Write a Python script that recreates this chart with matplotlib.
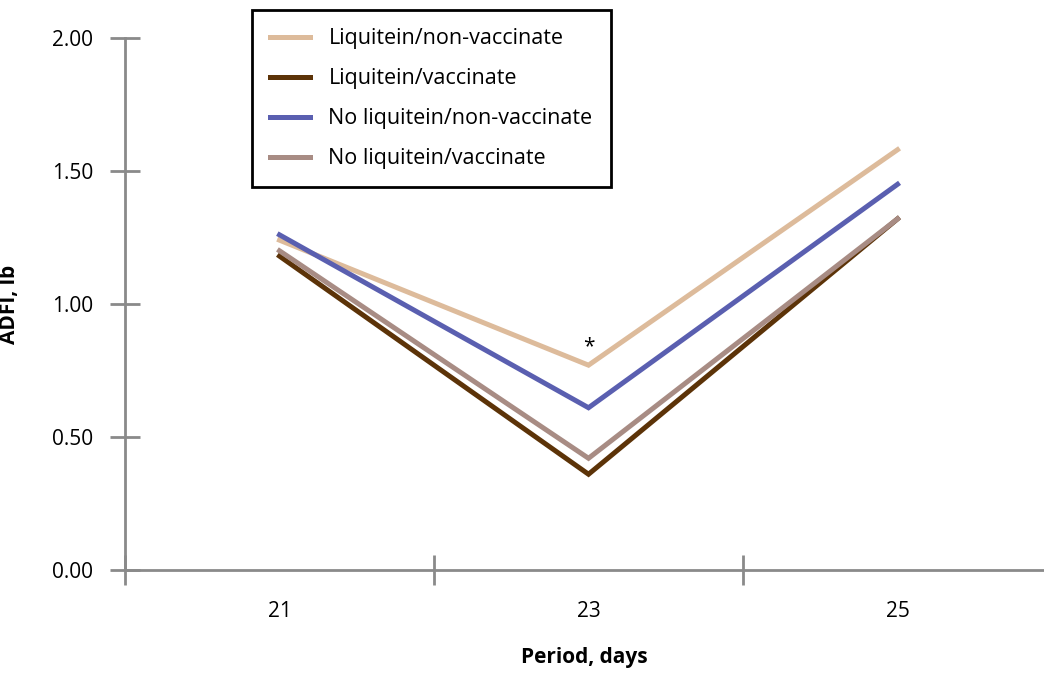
import matplotlib
matplotlib.use("Agg")
import matplotlib.pyplot as plt
import numpy as np

periods = ["21", "23", "25"]
series_names = [
    "Liquitein/non-vaccinate",
    "Liquitein/vaccinate",
    "No liquitein/non-vaccinate",
    "No liquitein/vaccinate",
]
liq_nonvac = [1.24, 0.77, 1.58]
liq_vac = [1.18, 0.36, 1.32]
noliq_nonvac = [1.26, 0.61, 1.45]
noliq_vac = [1.20, 0.42, 1.32]
colors = ["#DDBB9B", "#5C3308", "#5A5FB0", "#A88C84"]
star_pos = (1, 0.84)

plt.rcParams["font.family"] = ["Open Sans", "DejaVu Sans"]

fig = plt.figure(figsize=(10.44, 6.73), dpi=100)
ax = fig.add_axes([125 / 1044, 103 / 673, 919 / 1044, 532 / 673])

x = np.arange(len(periods))
for vals, name, c in zip([liq_nonvac, liq_vac, noliq_nonvac, noliq_vac], series_names, colors):
    ax.plot(x, vals, color=c, lw=3.6, label=name, solid_joinstyle="miter")

ax.text(*star_pos, "*", ha="center", va="center", fontsize=15)

ax.set_xlim(-0.5, 2.474)
ax.set_ylim(0, 2)
ax.set_yticks([0, 0.5, 1.0, 1.5, 2.0])
ax.set_yticklabels(["0.00", "0.50", "1.00", "1.50", "2.00"])
ax.set_xticks([-0.5, 0.5, 1.5])
ax.set_xticklabels([])
ax.set_xticks(x, minor=True)
ax.set_xticklabels(periods, minor=True)

gray = "#8a8a8a"
for s in ["top", "right"]:
    ax.spines[s].set_visible(False)
for s in ["left", "bottom"]:
    ax.spines[s].set_color(gray)
    ax.spines[s].set_linewidth(2)
ax.tick_params(axis="both", which="major", direction="inout", length=22, width=2,
               color=gray, labelsize=15, pad=4)
ax.tick_params(axis="y", pad=12)
ax.tick_params(axis="x", which="minor", length=0, labelsize=15, pad=22)

ax.set_ylabel("ADFI, lb", fontsize=15, fontweight="bold")
ax.yaxis.set_label_coords(-105 / 919, 0.5)
ax.set_xlabel("Period, days", fontsize=15, fontweight="bold", labelpad=18)

leg = ax.legend(loc="upper left", bbox_to_anchor=(252 / 1044, 1 - 10 / 673),
                bbox_transform=fig.transFigure, borderaxespad=0, fontsize=15.5,
                frameon=True, fancybox=False, edgecolor="black", framealpha=1,
                handlelength=1.85, handletextpad=0.85, borderpad=0.85,
                labelspacing=0.88)
leg.get_frame().set_linewidth(2)

fig.savefig("out.png", dpi=100)
